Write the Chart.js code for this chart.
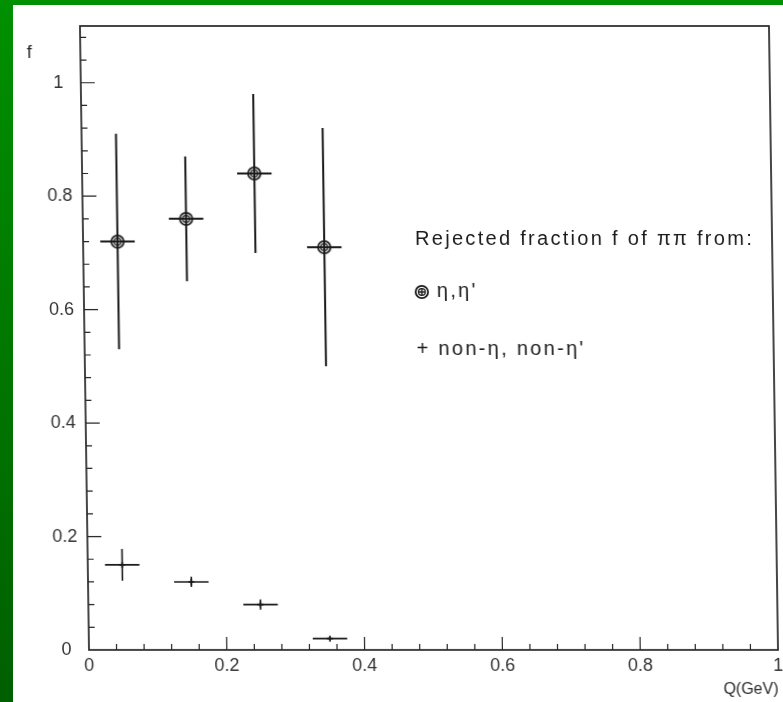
<!DOCTYPE html>
<html>
<head>
<meta charset="utf-8">
<script src="https://cdn.jsdelivr.net/npm/chart.js"></script>
<style>
  html, body { margin: 0; padding: 0; }
  body { width: 783px; height: 702px; overflow: hidden; position: relative; background: linear-gradient(#009000, #005f00); }
  #paper { position: absolute; left: 13px; top: 5px; right: 0; bottom: 0; background: #fff; }
  /* the scanned figure leans a little, so the canvas is skewed around the x axis */
  #chartFractions { position: absolute; left: 0; top: 0; transform: skewX(0.83deg); transform-origin: 0 650px; }
</style>
</head>
<body>
<div id="paper"></div>
<canvas id="chartFractions" width="783" height="702"></canvas>
<script>
// Q bins (GeV) and half widths
var qBins = [0.05, 0.15, 0.25, 0.35];
var qHalfWidth = [0.025, 0.025, 0.025, 0.025];

// rejected fraction f, eta / eta' sample
var etaFraction = [0.72, 0.76, 0.84, 0.71];
var etaError = [0.19, 0.11, 0.14, 0.21];

// rejected fraction f, non-eta / non-eta' sample
var nonEtaFraction = [0.15, 0.12, 0.08, 0.02];
var nonEtaError = [0.028, 0.009, 0.009, 0.003];

var xTicks = [0, 0.2, 0.4, 0.6, 0.8, 1];
var yTicks = [0, 0.2, 0.4, 0.6, 0.8, 1];
var seriesNames = ["η,η'", "non-η, non-η'"];
var legendTitle = "Rejected fraction f of ππ from:";
var xTitle = "Q(GeV)";
var yTitle = "f";

var ink = '#1a1a1a';
var fontFamily = '"Liberation Sans", Arial, sans-serif';

function toPoints(ys) {
    return qBins.map(function (q, i) { return { x: q, y: ys[i] }; });
}

// circled marker for the eta, eta' points
var etaMark = document.createElement('canvas');
etaMark.width = 16;
etaMark.height = 16;
var m = etaMark.getContext('2d');
m.strokeStyle = ink;
m.lineWidth = 1.8;
m.beginPath(); m.arc(8, 8, 6.2, 0, 2 * Math.PI); m.stroke();
m.lineWidth = 1.3;
m.beginPath(); m.arc(8, 8, 3.4, 0, 2 * Math.PI); m.stroke();

var errorBars = {
    id: 'errorBars',
    beforeDatasetsDraw: function (chart) {
        var ctx = chart.ctx, xs = chart.scales.x, ys = chart.scales.y;
        chart.data.datasets.forEach(function (ds) {
            ctx.save();
            ctx.strokeStyle = ink;
            ctx.lineWidth = ds.barWidth;
            ds.data.forEach(function (p, i) {
                var px = xs.getPixelForValue(p.x);
                var py = ys.getPixelForValue(p.y);
                ctx.beginPath();
                ctx.moveTo(xs.getPixelForValue(p.x - ds.xErr[i]), py);
                ctx.lineTo(xs.getPixelForValue(p.x + ds.xErr[i]), py);
                ctx.moveTo(px, ys.getPixelForValue(p.y + ds.yErr[i]));
                ctx.lineTo(px, ys.getPixelForValue(p.y - ds.yErr[i]));
                ctx.stroke();
            });
            ctx.restore();
        });
    }
};

// frame, inward ticks, axis titles and the text legend
var frame = {
    id: 'frame',
    afterDraw: function (chart) {
        var ctx = chart.ctx, a = chart.chartArea, xs = chart.scales.x, ys = chart.scales.y;
        var minorStep = 0.04, k, v, len;
        ctx.save();
        ctx.strokeStyle = '#262626';
        ctx.lineWidth = 1.7;
        ctx.strokeRect(a.left, a.top, a.right - a.left, a.bottom - a.top);

        ctx.lineWidth = 1.2;
        ctx.beginPath();
        for (k = 1; k * minorStep < xs.max - 1e-9; k++) {
            v = k * minorStep;
            len = k % 5 === 0 ? 13 : 6;
            ctx.moveTo(xs.getPixelForValue(v), a.bottom);
            ctx.lineTo(xs.getPixelForValue(v), a.bottom - len);
        }
        for (k = 1; k * minorStep < ys.max - 1e-9; k++) {
            v = k * minorStep;
            len = k % 5 === 0 ? 14 : 6;
            ctx.moveTo(a.left, ys.getPixelForValue(v));
            ctx.lineTo(a.left + len, ys.getPixelForValue(v));
        }
        ctx.stroke();

        ctx.fillStyle = '#2a2a2a';
        ctx.font = '18px ' + fontFamily;
        ctx.textBaseline = 'middle';
        ctx.textAlign = 'center';
        ctx.fillText(yTitle, a.left - 51, 53);
        ctx.textAlign = 'right';
        ctx.font = '16px ' + fontFamily;
        ctx.fillText(xTitle, a.right, 690);

        // legend
        ctx.fillStyle = ink;
        ctx.textAlign = 'left';
        ctx.textBaseline = 'alphabetic';
        ctx.font = '20px ' + fontFamily;
        ctx.letterSpacing = '2.3px';
        ctx.fillText(legendTitle, a.left + 332, 245);

        var mx = a.left + 338, my = 292;
        ctx.drawImage(etaMark, mx - 8, my - 8);
        ctx.lineWidth = 1.5;
        ctx.beginPath();
        ctx.moveTo(mx - 4, my); ctx.lineTo(mx + 4, my);
        ctx.moveTo(mx, my - 4); ctx.lineTo(mx, my + 4);
        ctx.stroke();
        ctx.fillText(seriesNames[0], a.left + 353, 297);
        ctx.fillText('+ ' + seriesNames[1], a.left + 332, 355);
        ctx.restore();
    }
};

var ctf = document.getElementById('chartFractions');

var fractions = new Chart(ctf, {
    type: 'scatter',
    data: {
        datasets: [{
            label: seriesNames[0],
            data: toPoints(etaFraction),
            xErr: qHalfWidth,
            yErr: etaError,
            barWidth: 2,
            pointStyle: etaMark,
            pointRadius: 8
        }, {
            label: seriesNames[1],
            data: toPoints(nonEtaFraction),
            xErr: qHalfWidth,
            yErr: nonEtaError,
            barWidth: 1.6,
            pointStyle: 'cross',
            pointRadius: 3,
            borderColor: ink,
            borderWidth: 1.6
        }]
    },
    options: {
        responsive: false,
        animation: false,
        layout: { autoPadding: false, padding: { top: 26, right: 5, left: 0, bottom: 0 } },
        plugins: { legend: { display: false }, tooltip: { enabled: false } },
        scales: {
            x: {
                type: 'linear', min: 0, max: 1,
                grid: { display: false, drawTicks: false },
                border: { display: false },
                afterBuildTicks: function (s) { s.ticks = xTicks.map(function (v) { return { value: v }; }); },
                afterFit: function (s) { s.height = 52; s.paddingLeft = 0; s.paddingRight = 0; },
                ticks: {
                    padding: 5, maxRotation: 0, autoSkip: false, color: '#333',
                    font: { family: fontFamily, size: 18 },
                    callback: function (v) { return String(v); }
                }
            },
            y: {
                type: 'linear', min: 0, max: 1.1,
                grid: { display: false, drawTicks: false },
                border: { display: false },
                afterBuildTicks: function (s) { s.ticks = yTicks.map(function (v) { return { value: v }; }); },
                afterFit: function (s) { s.width = 89; s.paddingTop = 0; s.paddingBottom = 0; },
                ticks: {
                    padding: 10, crossAlign: 'center', color: '#333',
                    font: { family: fontFamily, size: 18 },
                    callback: function (v) { return String(v); }
                }
            }
        }
    },
    plugins: [errorBars, frame]
});
</script>
</body>
</html>
